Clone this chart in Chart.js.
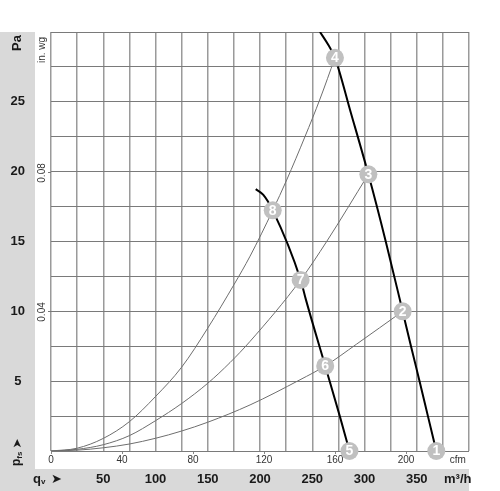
<!DOCTYPE html>
<html>
<head>
<meta charset="utf-8">
<script src="https://cdn.jsdelivr.net/npm/chart.js@4/dist/chart.umd.min.js"></script>
<style>
  html, body { margin: 0; padding: 0; background: #fff; }
</style>
</head>
<body>
<canvas id="fanChart" width="500" height="491"></canvas>
<script>
// air flow in m³/h, static pressure in Pa
const fanHighQ = [257.4, 265.3, 271.7, 287.0, 303.7, 320.4, 336.5, 344.6, 352.8, 360.8, 368.7];
const fanHighP = [30.0, 29.08, 28.15, 24.2, 19.81, 14.99, 10.0, 7.47, 4.96, 2.46, 0];

const fanLowQ = [195.9, 203.2, 212.2, 238.9, 244.0, 262.4, 276.5, 285.6];
const fanLowP = [18.75, 18.34, 17.23, 12.25, 10.82, 6.09, 2.46, 0];

// system curves
const sysAQ = [0, 25, 50, 75, 100, 125, 150, 175, 190.5, 212.2, 225.5, 243, 257.4, 271.7];
const sysAP = [0, 0.2, 0.9, 2.1, 3.9, 6.0, 8.8, 11.9, 13.95, 17.23, 19.4, 22.5, 25.2, 28.15];
const sysBQ = [0, 25, 50, 75, 100, 125, 150, 171.3, 190.5, 238.9, 263.8, 303.7];
const sysBP = [0, 0.12, 0.45, 1.1, 2.17, 3.4, 4.85, 6.33, 7.85, 12.25, 15.0, 19.81];
const sysCQ = [0, 25, 50, 75, 100, 125, 150, 190.5, 238.3, 262.4, 292.4, 336.5];
const sysCP = [0, 0.06, 0.23, 0.5, 0.91, 1.43, 2.06, 3.3, 5.1, 6.09, 7.65, 10.0];

// numbered operating points
const opNames = ['1', '2', '3', '4', '5', '6', '7', '8'];
const opQ = [368.7, 336.5, 303.7, 271.7, 285.6, 262.4, 238.9, 212.2];
const opP = [0, 10.0, 19.81, 28.15, 0, 6.09, 12.25, 17.23];

// axis labels
const m3hTicks = [50, 100, 150, 200, 250, 300, 350];
const cfmTicks = [0, 40, 80, 120, 160, 200];
const paTicks = [5, 10, 15, 20, 25];
const inwgTicks = [0.04, 0.08];

const CFM = 1.699;      // m³/h per cfm
const PA_INWG = 248.84; // Pa per in. wg
const m3hUnitAt = 389.2;
const cfmUnitAt = 229.1;

const pts = (xs, ys) => xs.map((x, i) => ({ x: x, y: ys[i] }));

Chart.defaults.font.family = "'Liberation Sans', Arial, sans-serif";

function vText(ctx, text, x, y, font, color) {
  ctx.save();
  ctx.translate(x, y);
  ctx.rotate(-Math.PI / 2);
  ctx.font = font;
  ctx.fillStyle = color;
  ctx.textAlign = 'center';
  ctx.textBaseline = 'middle';
  ctx.fillText(text, 0, 0);
  ctx.restore();
}

const decor = {
  id: 'decor',
  beforeDraw(chart) {
    const ctx = chart.ctx, area = chart.chartArea;
    const yPa = chart.scales.y, xM = chart.scales.x;
    ctx.save();
    ctx.fillStyle = '#d9d9d9';
    ctx.fillRect(yPa.left, area.top, yPa.right - yPa.left, chart.height - area.top);
    ctx.fillRect(0, xM.top, area.right, xM.bottom - xM.top);
    ctx.restore();
  },
  afterDatasetsDraw(chart) {
    const ctx = chart.ctx;
    const meta = chart.getDatasetMeta(0);
    ctx.save();
    ctx.fillStyle = '#fff';
    ctx.font = "bold 14px 'Liberation Sans', Arial, sans-serif";
    ctx.textAlign = 'center';
    ctx.textBaseline = 'middle';
    meta.data.forEach((p, i) => ctx.fillText(opNames[i], p.x, p.y + 0.5));
    ctx.restore();
  },
  afterDraw(chart) {
    const ctx = chart.ctx, area = chart.chartArea;
    const yPa = chart.scales.y, wg = chart.scales.inwg, xM = chart.scales.x;
    const midPa = (yPa.left + yPa.right) / 2;
    const midWg = (wg.left + wg.right) / 2 - 1;
    // in. wg labels are rotated
    inwgTicks.forEach(v => vText(ctx, String(v), midWg, wg.getPixelForValue(v), "10px 'Liberation Sans', Arial", '#333'));
    vText(ctx, 'in. wg', midWg, area.top + 18, "10px 'Liberation Sans', Arial", '#333');
    vText(ctx, 'Pa', midPa, area.top + 11, "bold 13px 'Liberation Sans', Arial", '#1a1a1a');

    // p_fs arrow, reading upwards
    ctx.save();
    ctx.translate(midPa, area.bottom + 15);
    ctx.rotate(-Math.PI / 2);
    ctx.fillStyle = '#1a1a1a';
    ctx.textBaseline = 'middle';
    ctx.textAlign = 'left';
    ctx.font = "bold 12px 'Liberation Sans', Arial";
    ctx.fillText('p', 0, -1);
    let w = ctx.measureText('p').width;
    ctx.font = "bold 8px 'Liberation Sans', Arial";
    ctx.fillText('fs', w, 2);
    w += ctx.measureText('fs').width + 3;
    ctx.font = "12px 'DejaVu Sans', sans-serif";
    ctx.fillText('➤', w, 0);
    ctx.restore();

    // q_v arrow
    const yq = (xM.top + xM.bottom) / 2;
    ctx.save();
    ctx.fillStyle = '#1a1a1a';
    ctx.textBaseline = 'middle';
    ctx.textAlign = 'left';
    ctx.font = "bold 13px 'Liberation Sans', Arial";
    ctx.fillText('q', 33, yq - 1);
    let wq = 33 + ctx.measureText('q').width;
    ctx.font = "bold 8px 'Liberation Sans', Arial";
    ctx.fillText('v', wq, yq + 2);
    ctx.font = "13px 'DejaVu Sans', sans-serif";
    ctx.fillText('➤', 51, yq);
    ctx.restore();
  }
};

const line = (xs, ys, color, width) => ({
  data: pts(xs, ys),
  xAxisID: 'x',
  yAxisID: 'y',
  borderColor: color,
  borderWidth: width,
  pointRadius: 0,
  cubicInterpolationMode: 'monotone',
});

const config = {
  type: 'line',
  data: {
    datasets: [
      {
        data: pts(opQ, opP),
        xAxisID: 'x',
        yAxisID: 'y',
        showLine: false,
        pointRadius: 9,
        pointBorderWidth: 0,
        pointBackgroundColor: '#c0c0c0',
        clip: false,
      },
      line(fanHighQ, fanHighP, '#000', 2),
      line(fanLowQ, fanLowP, '#000', 2),
      line(sysAQ, sysAP, '#6e6e6e', 1),
      line(sysBQ, sysBP, '#6e6e6e', 1),
      line(sysCQ, sysCP, '#6e6e6e', 1),
    ],
  },
  options: {
    responsive: false,
    animation: false,
    events: [],
    layout: { padding: { top: 32, right: 31, left: 0, bottom: 0 } },
    plugins: {
      legend: { display: false },
      tooltip: { enabled: false },
    },
    scales: {
      cfm: {
        type: 'linear',
        position: 'bottom',
        weight: 0,
        min: 0,
        max: 400 / CFM,
        afterBuildTicks: s => { s.ticks = cfmTicks.concat([cfmUnitAt]).map(v => ({ value: v })); },
        afterFit: s => { s.height = 18; },
        border: { display: false },
        grid: {
          drawOnChartArea: false,
          tickLength: 3,
          color: c => (c.tick && c.tick.value === cfmUnitAt ? 'rgba(0,0,0,0)' : '#888'),
        },
        ticks: {
          autoSkip: false,
          maxRotation: 0,
          padding: 0,
          color: '#333',
          font: { size: 10 },
          callback: v => (v === cfmUnitAt ? 'cfm' : v),
        },
      },
      x: {
        type: 'linear',
        position: 'bottom',
        weight: 1,
        min: 0,
        max: 400,
        afterBuildTicks: s => {
          const t = [];
          for (let v = 0; v <= 400; v += 25) t.push({ value: v });
          t.push({ value: m3hUnitAt });
          s.ticks = t;
        },
        afterFit: s => { s.height = 22; },
        border: { display: false },
        grid: {
          drawTicks: false,
          lineWidth: 1.5,
          color: c => (c.tick && c.tick.value % 25 === 0 ? '#9a9a9a' : 'rgba(0,0,0,0)'),
        },
        ticks: {
          autoSkip: false,
          maxRotation: 0,
          padding: 3,
          color: '#1a1a1a',
          font: { size: 13, weight: 'bold' },
          callback: v => (v === m3hUnitAt ? 'm³/h' : (m3hTicks.includes(v) ? v : '')),
        },
      },
      inwg: {
        type: 'linear',
        position: 'left',
        weight: 0,
        min: 0,
        max: 30 / PA_INWG,
        afterBuildTicks: s => { s.ticks = inwgTicks.map(v => ({ value: v })); },
        afterFit: s => { s.width = 16; },
        border: { display: false },
        grid: { drawOnChartArea: false, tickLength: 3, color: '#777' },
        ticks: { display: false },
      },
      y: {
        type: 'linear',
        position: 'left',
        weight: 1,
        min: 0,
        max: 30,
        ticks: {
          stepSize: 2.5,
          autoSkip: false,
          padding: 10,
          crossAlign: 'center',
          color: '#1a1a1a',
          font: { size: 13, weight: 'bold' },
          callback: v => (paTicks.includes(v) ? v : ''),
        },
        afterFit: s => { s.width = 35; },
        border: { display: false },
        grid: { drawTicks: false, color: '#7a7a7a', lineWidth: 1 },
      },
    },
  },
  plugins: [decor],
};

const fanChart = new Chart(document.getElementById('fanChart'), config);
</script>
</body>
</html>
